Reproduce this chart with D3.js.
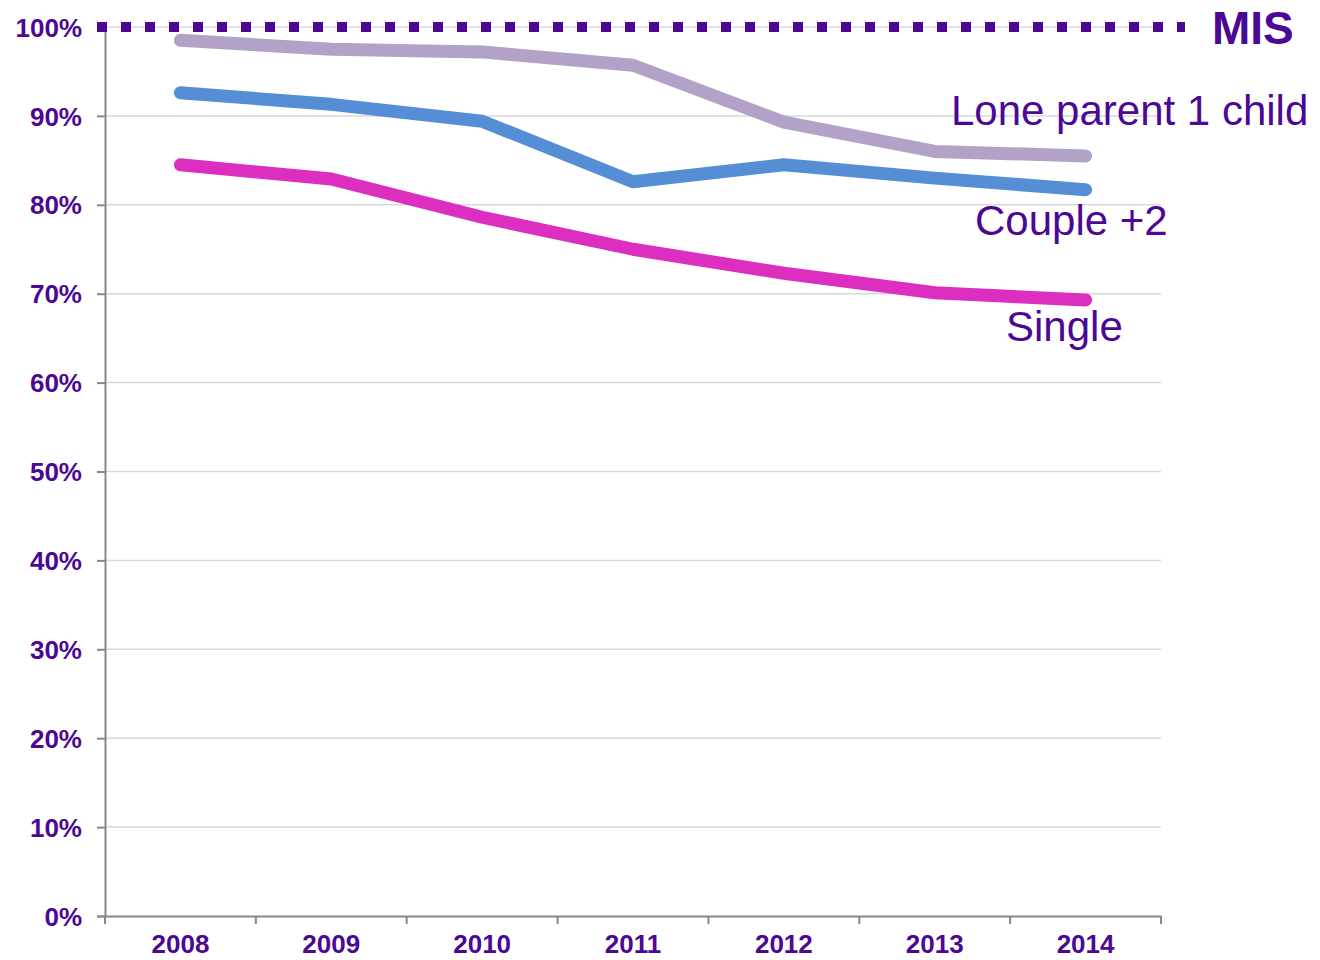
<!DOCTYPE html>
<html><head><meta charset="utf-8">
<script src="https://cdn.jsdelivr.net/npm/d3@7"></script>
<style>body{margin:0;background:#fff}svg{display:block}</style>
</head><body>
<svg id="c" width="1320" height="960"></svg>
<script>
const years = ["2008","2009","2010","2011","2012","2013","2014"];
const loneParent = [98.5, 97.5, 97.2, 95.7, 89.3, 86.0, 85.5];
const couple2 = [92.6, 91.3, 89.4, 82.6, 84.5, 83.0, 81.7];
const single = [84.5, 82.9, 78.6, 75.0, 72.3, 70.1, 69.3];
const yTicks = [0,10,20,30,40,50,60,70,80,90,100];
const seriesNames = ["Lone parent 1 child","Couple +2","Single"];

const purple = "#4b0895";
const svg = d3.select("#c");
const x = d3.scaleBand().domain(years).range([105,1161]);
const y = d3.scaleLinear().domain([0,100]).range([916,27]);
const font = "Liberation Sans, Arial, sans-serif";

// gridlines
svg.append("g").selectAll("line").data(yTicks.filter(d=>d>0)).join("line")
  .attr("x1",105).attr("x2",1161).attr("y1",d=>y(d)).attr("y2",d=>y(d))
  .attr("stroke","#d9d9d9").attr("stroke-width",1.5);

// y axis
const ya = svg.append("g").attr("transform","translate(105,0)")
  .call(d3.axisLeft(y).tickValues(yTicks).tickFormat(d=>d+"%").tickSize(8).tickPadding(15));
ya.select(".domain").attr("stroke","#888").attr("stroke-width",2);
ya.selectAll(".tick line").attr("stroke","#888").attr("stroke-width",2);
ya.selectAll("text").attr("fill",purple).attr("font-family",font).attr("font-weight","bold").attr("font-size",26).attr("dy","0.35em");

// x axis
const xa = svg.append("g").attr("transform","translate(0,916)")
  .call(d3.axisBottom(x).tickSize(0).tickPadding(19));
xa.select(".domain").attr("stroke","#888").attr("stroke-width",2);
xa.selectAll("text").attr("fill",purple).attr("font-family",font).attr("font-weight","bold").attr("font-size",26);
const bounds = years.map(d=>x(d)).concat([x(years[years.length-1])+x.bandwidth()]);
svg.append("g").selectAll("line").data(bounds).join("line")
  .attr("x1",d=>d).attr("x2",d=>d).attr("y1",916).attr("y2",924)
  .attr("stroke","#888").attr("stroke-width",2);

// MIS dotted line
svg.append("line").attr("x1",97).attr("x2",1185).attr("y1",y(100)).attr("y2",y(100))
  .attr("stroke",purple).attr("stroke-width",10).attr("stroke-dasharray","10,14");
svg.append("text").attr("x",1212).attr("y",y(100)+17).text("MIS")
  .attr("fill",purple).attr("font-family",font).attr("font-weight","bold").attr("font-size",46);

const line = d3.line().x((d,i)=>x(years[i])+x.bandwidth()/2).y(d=>y(d));
const series = [
  {name:seriesNames[0], vals:loneParent, color:"#b3a2c7", lx:951, ly:125},
  {name:seriesNames[1], vals:couple2, color:"#558ed5", lx:975, ly:235},
  {name:seriesNames[2], vals:single, color:"#dc2fbf", lx:1006, ly:341}
];
series.forEach(s=>{
  svg.append("path").attr("d",line(s.vals)).attr("fill","none").attr("stroke",s.color)
    .attr("stroke-width",13).attr("stroke-linecap","round").attr("stroke-linejoin","round");
});
series.forEach(s=>{
  svg.append("text").attr("x",s.lx).attr("y",s.ly).text(s.name)
    .attr("fill",purple).attr("font-family",font).attr("font-size",42);
});
</script>
</body></html>
